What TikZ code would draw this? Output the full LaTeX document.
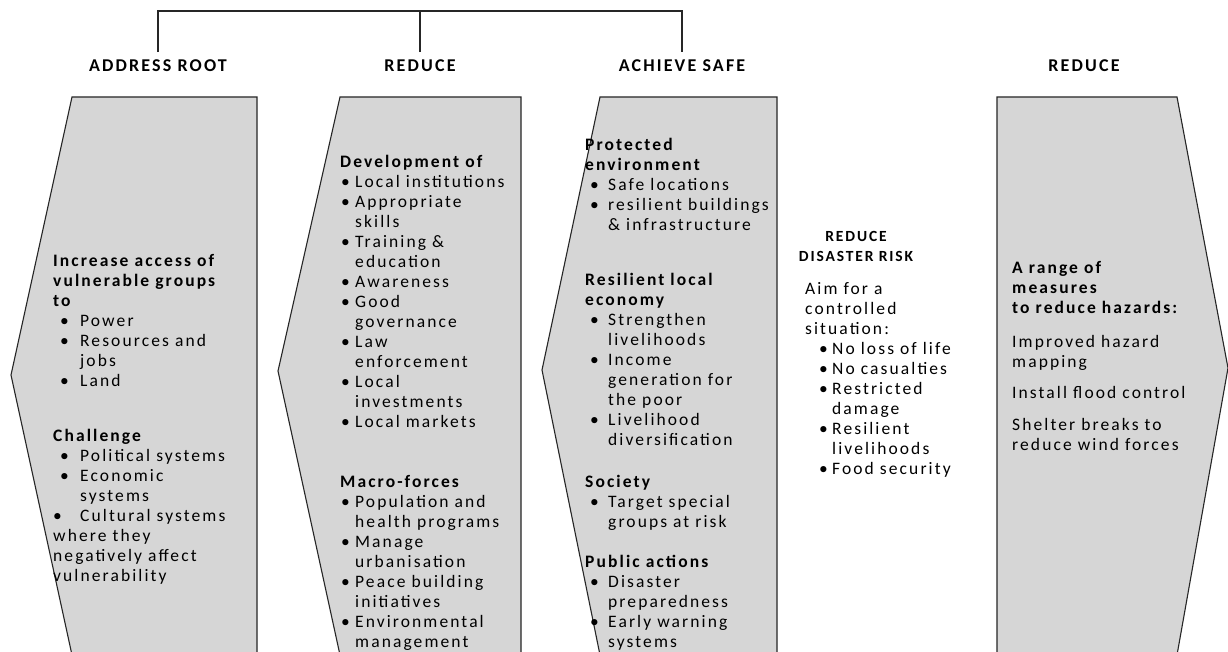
\documentclass[tikz,border=0pt]{standalone}
\usepackage{fontspec}
\setmainfont{Carlito}[LetterSpace=12]
\definecolor{bandgray}{HTML}{D6D6D6}
\newcommand\bl[2]{\hspace*{#1pt}\makebox[#2pt][l]{\textbullet}}
\newcommand\cn[1]{\hspace*{#1pt}}
\begin{document}
\begin{tikzpicture}[x=1pt,y=-1pt,
  band/.style={draw=black!85, line width=1.1pt, fill=bandgray},
  head/.style={font=\bfseries\fontsize{18}{20}\selectfont, inner sep=2pt, outer sep=6pt},
  txt/.style={anchor=north west, align=left, inner sep=0pt, font=\fontsize{17.5}{20}\selectfont, execute at begin node=\strut},
  link/.style={draw=black!85, line width=1.1pt}]
\clip (0,0) rectangle (1228,652);
\fill[white] (0,0) rectangle (1228,652);

\draw[band] (72,97) -- (257,97) -- (257,655) -- (72,655) -- (11,375) -- cycle;
\draw[band] (340,97) -- (521,97) -- (521,655) -- (340,655) -- (278,371) -- cycle;
\draw[band] (600,97) -- (777,97) -- (777,655) -- (600,655) -- (542,370) -- cycle;
\draw[band] (997,97) -- (1177,97) -- (1228,368) -- (1177,655) -- (997,655) -- cycle;

\node[head] (hroot) at (158,66) {ADDRESS ROOT};
\node[head] (hred) at (420,66) {REDUCE};
\node[head] (hsafe) at (682,66) {ACHIEVE SAFE};
\node[head] (hhaz) at (1084,66) {REDUCE};
\coordinate (top) at (420,11);
\draw[link] (hroot.north) |- (hsafe.north |- top) -- (hsafe.north);
\draw[link] (hred.north) -- (hred.north |- top);

\node[txt] (root) at (53,254) {\textbf{Increase access of}\\\textbf{vulnerable groups}\\\textbf{to}\\
\bl{7}{20}Power\\\bl{7}{20}Resources and\\\cn{27}jobs\\\bl{7}{20}Land\\[35pt]
\textbf{Challenge}\\\bl{7}{20}Political systems\\\bl{7}{20}Economic\\\cn{27}systems\\
\bl{0}{27}Cultural systems\\where they\\negatively affect\\vulnerability};

\node[txt] (dev) at (340,155) {\textbf{Development of}\\\bl{1}{14}Local institutions\\\bl{1}{14}Appropriate\\\cn{15}skills\\
\bl{1}{14}Training \&\\\cn{15}education\\\bl{1}{14}Awareness\\\bl{1}{14}Good\\\cn{15}governance\\
\bl{1}{14}Law\\\cn{15}enforcement\\\bl{1}{14}Local\\\cn{15}investments\\\bl{1}{14}Local markets\\[40pt]
\textbf{Macro-forces}\\\bl{1}{14}Population and\\\cn{15}health programs\\\bl{1}{14}Manage\\\cn{15}urbanisation\\
\bl{1}{14}Peace building\\\cn{15}initiatives\\\bl{1}{14}Environmental\\\cn{15}management};

\node[txt] (safe) at (585,138) {\textbf{Protected}\\\textbf{environment}\\\bl{5}{18}Safe locations\\\bl{5}{18}resilient buildings\\\cn{23}\& infrastructure\\[35pt]
\textbf{Resilient local}\\\textbf{economy}\\\bl{5}{18}Strengthen\\\cn{23}livelihoods\\\bl{5}{18}Income\\\cn{23}generation for\\\cn{23}the poor\\
\bl{5}{18}Livelihood\\\cn{23}diversification\\[22pt]
\textbf{Society}\\\bl{5}{18}Target special\\\cn{23}groups at risk\\[20pt]
\textbf{Public actions}\\\bl{5}{18}Disaster\\\cn{23}preparedness\\\bl{5}{18}Early warning\\\cn{23}systems};

\node[font=\bfseries\fontsize{15.5}{20}\selectfont, align=center, inner sep=0pt] (risk) at (856,246) {REDUCE\\DISASTER RISK};
\node[txt] (aim) at (805,282) {Aim for a\\controlled\\situation:\\\bl{14}{13}No loss of life\\\bl{14}{13}No casualties\\
\bl{14}{13}Restricted\\\cn{27}damage\\\bl{14}{13}Resilient\\\cn{27}livelihoods\\\bl{14}{13}Food security};

\node[txt] (haz) at (1012,261) {\textbf{A range of}\\\textbf{measures}\\\textbf{to reduce hazards:}\\[14pt]
Improved hazard\\mapping\\[11pt]Install flood control\\[12pt]Shelter breaks to\\reduce wind forces};
\end{tikzpicture}
\end{document}
